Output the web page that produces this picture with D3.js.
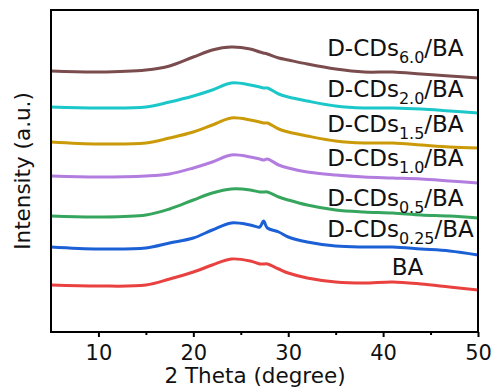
<!DOCTYPE html>
<html>
<head>
<meta charset="utf-8">
<script src="https://cdn.jsdelivr.net/npm/d3@7"></script>
<style>
  body { margin: 0; background: #fff; }
  text { font-family: "DejaVu Sans", sans-serif; fill: #111; }
</style>
</head>
<body>
<div id="chart"></div>
<script>
// 2 theta sample points (degree)
var twoTheta = [5, 10, 15, 17.5, 20, 22, 24, 26, 27, 27.4, 27.8, 29, 30, 32, 35, 38, 41, 44, 47, 50];

// sample names, bottom to top
var names = ["BA", "D-CDs0.25/BA", "D-CDs0.5/BA", "D-CDs1.0/BA", "D-CDs1.5/BA", "D-CDs2.0/BA", "D-CDs6.0/BA"];
var mainText = ["BA", "D-CDs", "D-CDs", "D-CDs", "D-CDs", "D-CDs", "D-CDs"];
var subText = ["", "0.25", "0.5", "1.0", "1.5", "2.0", "6.0"];

// vertical stacking offsets (a.u.)
var offsets = [47, 85, 116, 156, 190, 225, 261];

// intensity above each offset (a.u.), one list per sample
var ba     = [0, -1, 0, 6, 13, 20, 26, 24, 21, 21, 21, 16, 12, 7, 3, 2, 3, 1, -2, -5];
var cd025  = [0, -2, -1, 4, 9, 17, 24, 22, 20, 26, 19, 15, 10, 5, 1, 0, 0, -2, -4, -8];
var cd05   = [0, -1, 1, 7, 16, 23, 27, 26, 24, 24, 24, 19, 16, 11, 6, 4, 3, 1, 0, -2];
var cd10   = [0, -1, 0, 2, 8, 14, 21, 19, 17, 16, 17, 11, 8, 4, 1, -1, -2, -3, -5, -7];
var cd15   = [0, -2, -1, 4, 10, 17, 24, 22, 20, 19, 19, 13, 10, 6, 1, -1, -1, -3, -5, -6];
var cd20   = [0, -1, 0, 5, 11, 17, 24, 22, 20, 19, 19, 13, 10, 6, 1, -1, -1, -2, -4, -6];
var cd60   = [0, -1, 1, 5, 14, 21, 24, 22, 19, 18, 17, 13, 11, 7, 2, -1, -1, -3, -5, -7];
var series = [ba, cd025, cd05, cd10, cd15, cd20, cd60];

var colors = ["#e8413f", "#1c60d6", "#36a55e", "#b27ddf", "#cb9a08", "#1cc7c9", "#7b4c4e"];

var xTicks = [10, 20, 30, 40, 50];
var xMinor = [15, 25, 35, 45];

var W = 496, H = 392;
var plotLeft = 51, plotRight = 478, plotTop = 10, plotBottom = 332;

var svg = d3.select("#chart")
  .append("svg")
    .attr("width", W)
    .attr("height", H);

var x = d3.scaleLinear().domain([5, 50]).range([plotLeft, plotRight]);
var y = d3.scaleLinear().domain([0, 322]).range([plotBottom, plotTop]);

var line = d3.line()
  .x(function(d) { return x(d[0]); })
  .y(function(d) { return y(d[1]); })
  .curve(d3.curveCatmullRom.alpha(0.5));

// curves
svg.append("g")
  .selectAll("path")
  .data(series)
  .enter()
  .append("path")
    .attr("d", function(s, i) {
      return line(s.map(function(v, j) { return [twoTheta[j], v + offsets[i]]; }));
    })
    .attr("fill", "none")
    .attr("stroke", function(d, i) { return colors[i]; })
    .attr("stroke-width", 3)
    .attr("stroke-linejoin", "round");

// labels
var lab = svg.append("g")
  .selectAll("text")
  .data(names)
  .enter()
  .append("text")
    .attr("x", function(d, i) { return i == 0 ? x(40.9) : x(34.1); })
    .attr("y", function(d, i) { return y(offsets[i]) - (i == 6 ? 15 : 10); })
    .style("font-size", "23px");
lab.append("tspan").text(function(d, i) { return mainText[i]; });
lab.append("tspan")
    .attr("dy", 7)
    .style("font-size", "16px")
    .text(function(d, i) { return subText[i]; });
lab.append("tspan")
    .attr("dy", -7)
    .text(function(d, i) { return i == 0 ? "" : "/BA"; });

// x axis, major and minor ticks
var xAxis = svg.append("g")
  .attr("transform", "translate(0," + plotBottom + ")")
  .call(d3.axisBottom(x).tickValues(xTicks).tickSize(5).tickPadding(8).tickSizeOuter(0));
xAxis.select(".domain").remove();
xAxis.selectAll("line").attr("stroke", "#000").attr("stroke-width", 2);
xAxis.selectAll("text").style("font-size", "21px").attr("fill", "#111");

var xAxisMinor = svg.append("g")
  .attr("transform", "translate(0," + plotBottom + ")")
  .call(d3.axisBottom(x).tickValues(xMinor).tickSize(3).tickFormat("").tickSizeOuter(0));
xAxisMinor.select(".domain").remove();
xAxisMinor.selectAll("line").attr("stroke", "#000").attr("stroke-width", 2);

// frame
svg.append("rect")
  .attr("x", plotLeft)
  .attr("y", plotTop)
  .attr("width", plotRight - plotLeft)
  .attr("height", plotBottom - plotTop)
  .attr("fill", "none")
  .attr("stroke", "#000")
  .attr("stroke-width", 2);

// axis titles
svg.append("text")
  .attr("x", 255)
  .attr("y", 383)
  .attr("text-anchor", "middle")
  .style("font-size", "21.5px")
  .text("2 Theta (degree)");

svg.append("text")
  .attr("transform", "translate(30," + ((plotTop + plotBottom) / 2) + ") rotate(-90)")
  .attr("text-anchor", "middle")
  .style("font-size", "21.5px")
  .text("Intensity (a.u.)");
</script>
</body>
</html>
